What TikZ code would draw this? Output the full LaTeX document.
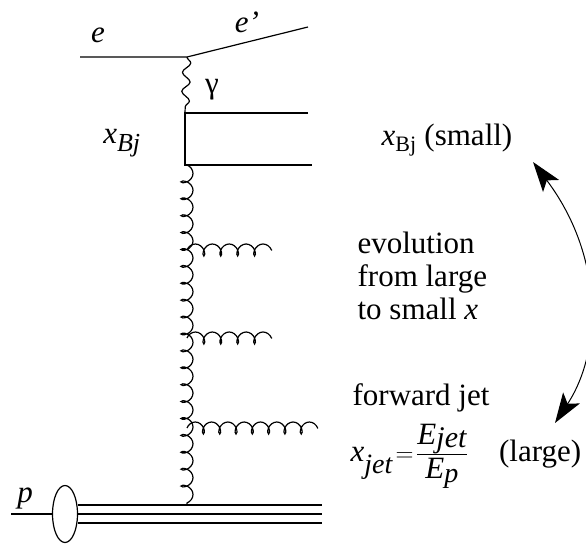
\documentclass[tikz,border=0pt]{standalone}
\usepackage{amsmath}
\usepackage{fontspec}
\setmainfont{Liberation Serif}
\newcommand{\subtxt}[2][28]{\text{\fontsize{#1}{#1}\selectfont #2}}
\usetikzlibrary{decorations.pathmorphing,shapes.geometric,arrows.meta}
\begin{document}
\begin{tikzpicture}[x=1pt,y=-1pt,line width=1.2pt,
  lbl/.style={font=\fontsize{31}{33}\selectfont,inner sep=0pt},
  gluon/.style={decorate,decoration={coil,amplitude=6pt,segment length=16.9pt,aspect=0.7}},
  photon/.style={decorate,decoration={snake,amplitude=4pt,segment length=19pt}}]
\useasboundingbox (0,0) rectangle (586,545);
% electron and photon
\coordinate (ein) at (80,57);
\coordinate (vtx) at (187,57);
\coordinate (eout) at (308,27);
\draw (ein) -- (vtx) -- (eout);
\coordinate (qtl) at (185,113);
\coordinate (qtr) at (308,113);
\coordinate (qbl) at (185,165);
\coordinate (qbr) at (312,165);
\draw[photon] (vtx) -- (qtl);
\draw (qtr) -- (qtl) -- (qbl) -- (qbr);
% gluon ladder
\coordinate (gtop) at (187,165);
\coordinate (gbot) at (187,505);
\draw[gluon] (gtop) -- (gbot);
\coordinate (ra) at (187,250);
\coordinate (rae) at (272,250);
\coordinate (rb) at (187,338);
\coordinate (rbe) at (272,338);
\coordinate (rc) at (187,428);
\coordinate (rce) at (318,428);
\draw[gluon] (ra) -- (rae);
\draw[gluon] (rb) -- (rbe);
\draw[gluon,decoration={segment length=16.3pt}] (rc) -- (rce);
% proton
\node[ellipse,draw,inner sep=0pt,minimum width=25pt,minimum height=57pt] (blob) at (65,514) {};
\coordinate (pin) at (11,514);
\draw (pin) -- (blob.west);
\coordinate (pa) at (322,505);
\coordinate (pb) at (322,514);
\coordinate (pc) at (322,523);
\draw ([yshift=9pt]blob.east) -- (pa);
\draw (blob.east) -- (pb);
\draw ([yshift=-9pt]blob.east) -- (pc);
% labels
\node[lbl] (lp) at (25,498) {\textit{p}};
\node[lbl] (le) at (98,35) {\textit{e}};
\node[lbl] (lep) at (247,22) {\textit{e’}};
\node[lbl] (lgam) at (212,90) {γ};
\node[lbl] (lxbj) at (122,143) {$\textit{x}_{\subtxt[26]{\itshape Bj}}$};
\node[lbl] (lsmall) at (447,140) {$\textit{x}_{\subtxt[22]{Bj}}$ (small)};
\node[lbl,anchor=north west,align=left] (levol) at (357,231) {evolution\\from large\\to small \textit{x}};
\node[lbl,anchor=base west] (lfwd) at (352,405) {forward jet};
\node[lbl,anchor=base west] (lxjet) at (350,461) {$\textit{x}_{\raisebox{-9pt}{\subtxt{\itshape jet}}}\!=\!\dfrac{\textit{E}_{\smash{\subtxt[30]{\itshape jet}}}}{\textit{E}_{\smash{\subtxt{\itshape p}}}}$\quad(large)};
% evolution arrow
\coordinate (atop) at (533,162);
\coordinate (abot) at (555,423);
\draw[line width=1pt,{Stealth[length=30pt,width=20pt,inset=7pt]}-{Stealth[length=30pt,width=20pt,inset=7pt]}] (atop) .. controls (603,255) and (603,350) .. (abot);
\end{tikzpicture}
\end{document}
